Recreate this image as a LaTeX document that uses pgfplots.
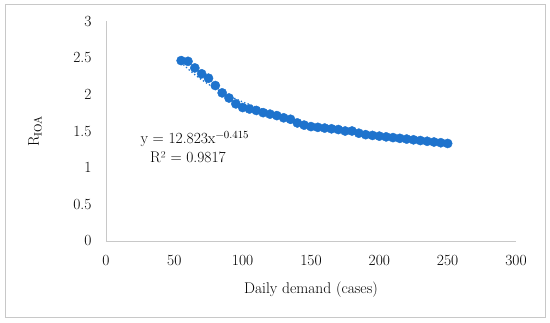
\documentclass[border=0pt]{standalone}
\usepackage{fontspec}
\usepackage{pgfplots}
\pgfplotsset{compat=1.18}
\definecolor{ptblue}{RGB}{30,115,205}
\definecolor{axgray}{RGB}{200,200,200}
\newcommand{\cf}{\fontsize{15.5}{18}\selectfont}
\begin{document}
\begin{tikzpicture}
\useasboundingbox (0,0) rectangle (550pt,322pt);
\draw[axgray, line width=0.8pt] (5.5pt,4.5pt) rectangle (545pt,318pt);
\begin{axis}[
  at={(106pt,81pt)}, anchor=south west,
  scale only axis, width=410pt, height=220pt,
  xmin=0, xmax=300, ymin=0, ymax=3,
  xtick={0,50,...,300}, ytick={0,0.5,...,3},
  axis x line*=bottom, axis y line*=left,
  axis line style={axgray, line width=0.8pt, -},
  tick style={draw=none},
  tick label style={font=\cf},
  label style={font=\cf},
  yticklabel style={anchor=east, xshift=-11pt},
  xticklabel style={anchor=north, yshift=-11pt},
  /pgf/number format/.cd, fixed, precision=1, assume math mode=true,
  /pgfplots/.cd,
  xlabel={Daily demand (cases)},
  ylabel={R\textsubscript{IOA}},
  xlabel style={at={(axis description cs:0.5,-0.2227)}, anchor=center},
  ylabel style={at={(axis description cs:-0.173,0.5)}, anchor=center, rotate=0},
  clip=false,
]
\addplot[only marks, mark=*, mark size=4.6pt, mark options={draw=ptblue, fill=ptblue}] coordinates {
(55,2.46) (60,2.45) (65,2.36) (70,2.28) (75,2.22) (80,2.12) (85,2.02) (90,1.95) (95,1.87) (100,1.82)
(105,1.80) (110,1.78) (115,1.75) (120,1.73) (125,1.71) (130,1.68) (135,1.66) (140,1.61) (145,1.58) (150,1.56)
(155,1.55) (160,1.54) (165,1.53) (170,1.52) (175,1.50) (180,1.50) (185,1.47) (190,1.45) (195,1.44) (200,1.43)
(205,1.42) (210,1.41) (215,1.40) (220,1.39) (225,1.38) (230,1.37) (235,1.36) (240,1.35) (245,1.34) (250,1.33)
};
\addplot[ptblue, line width=1.8pt, line cap=round, dash pattern=on 0pt off 3.6pt, smooth] coordinates {
(55,2.431) (65,2.268) (75,2.137) (85,2.029) (100,1.897) (125,1.729) (150,1.603) (175,1.504) (200,1.422) (225,1.355) (250,1.296)
};
\node[font=\cf, anchor=center] at (axis cs:65,1.39) {y = 12.823x\textsuperscript{−0.415}};
\node[font=\cf, anchor=center] at (axis cs:60,1.146) {R² = 0.9817};
\end{axis}
\end{tikzpicture}
\end{document}
